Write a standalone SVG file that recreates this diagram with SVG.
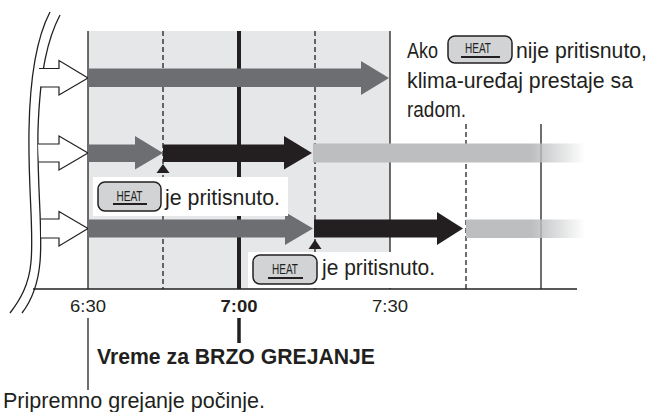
<svg xmlns="http://www.w3.org/2000/svg" width="651" height="412" viewBox="0 0 651 412">
<defs>
<style>
.txt{font-family:"Liberation Sans",Arial,sans-serif;font-size:22px;fill:#231f20}
.bold{font-weight:bold}
.axis{font-family:"Liberation Sans",Arial,sans-serif;font-size:17px;fill:#231f20}
.heat{font-family:"Liberation Sans",Arial,sans-serif;font-size:14px;fill:#231f20}
.btn{fill:#d1d3d4;stroke:#231f20;stroke-width:1.5}
.thin{stroke:#231f20;stroke-width:1.3;fill:none}
.dash{stroke:#231f20;stroke-width:1.3;stroke-dasharray:5 3;fill:none}
.warrow{fill:#fff;stroke:#231f20;stroke-width:1.2}
.dk{fill:#6d6e71}
.bk{fill:#231f20}
</style>
<linearGradient id="fade" x1="0" y1="0" x2="1" y2="0" gradientUnits="objectBoundingBox">
<stop offset="0" stop-color="#bcbec0"/>
<stop offset="0.8" stop-color="#bcbec0"/>
<stop offset="1" stop-color="#bcbec0" stop-opacity="0"/>
</linearGradient>
<linearGradient id="fade2" x1="0" y1="0" x2="1" y2="0" gradientUnits="objectBoundingBox">
<stop offset="0" stop-color="#bcbec0"/>
<stop offset="0.55" stop-color="#bcbec0"/>
<stop offset="1" stop-color="#bcbec0" stop-opacity="0"/>
</linearGradient>
</defs>

<g id="background">
<rect x="88" y="31" width="302" height="258" fill="#e6e7e8"/>
</g>

<g id="connectors">
<line class="thin" x1="88" y1="31" x2="88" y2="289"/>
<line class="thin" x1="390" y1="31" x2="390" y2="289"/>
<line class="dash" x1="163" y1="31" x2="163" y2="289"/>
<line class="dash" x1="315" y1="31" x2="315" y2="289"/>
<line class="dash" x1="466" y1="124" x2="466" y2="289"/>
<line class="thin" x1="541" y1="124" x2="541" y2="289"/>
<line x1="239" y1="31" x2="239" y2="289" stroke="#231f20" stroke-width="4"/>
<line class="thin" x1="33" y1="289" x2="577" y2="289" stroke-width="1.5"/>
<path class="thin" d="M50,12 C38,35 30,70 29,130 C28,190 34,230 31,262 C29,285 20,300 10,313"/>
<path class="thin" d="M60,15 C48,38 40,70 38,130 C37,190 43,230 40,262 C38,285 32,300 22,313"/>
<line class="thin" x1="88" y1="318" x2="88" y2="390"/>
<line x1="239" y1="318" x2="239" y2="343" stroke="#231f20" stroke-width="3.5"/>
</g>

<g id="row1">
<path class="warrow" d="M39,68.5 H59 V60.5 L88,78 L59,95 V87 H40"/>
<path class="dk" d="M88,68.5 H361 V61 L389,78 L361,95 V87 H88 Z"/>
</g>

<g id="row2">
<path class="warrow" d="M38,144 H59 V136 L88,153 L59,170 V162 H39"/>
<path class="dk" d="M88,144.5 H135 V136 L163,153 L135,169.5 V162 H88 Z"/>
<path class="bk" d="M163,144.5 H284 V136 L312,153 L284,169.5 V162 H163 Z"/>
<rect x="313" y="143.5" width="272" height="19" fill="url(#fade)"/>
<path class="bk" d="M163,164 L169.5,173 L156.5,173 Z"/>
</g>

<g id="row3">
<path class="warrow" d="M41,219 H59 V211.5 L88,228.5 L59,246 V238 H41"/>
<path class="dk" d="M88,219.5 H285 V212 L313,228.5 L285,245 V237.5 H88 Z"/>
<path class="bk" d="M314,219.5 H437 V212 L463,228.5 L437,245 V237.5 H314 Z"/>
<rect x="466" y="219.5" width="119" height="18.5" fill="url(#fade2)"/>
<path class="bk" d="M315,239.5 L321.5,249 L308.5,249 Z"/>
</g>

<g id="label1">
<rect x="93" y="177" width="195" height="39" fill="#fff"/>
<rect class="btn" x="98" y="182" width="63" height="29" rx="7"/>
<text class="heat" x="129.5" y="201" text-anchor="middle" textLength="26" lengthAdjust="spacingAndGlyphs">HEAT</text>
<rect x="113" y="203" width="34" height="2" fill="#231f20"/>
<text class="txt" x="165" y="205" textLength="115" lengthAdjust="spacingAndGlyphs">je pritisnuto.</text>
</g>

<g id="label2">
<rect x="248" y="252" width="196" height="36" fill="#fff"/>
<rect class="btn" x="253" y="255" width="64" height="29" rx="7"/>
<text class="heat" x="285" y="274" text-anchor="middle" textLength="26" lengthAdjust="spacingAndGlyphs">HEAT</text>
<rect x="268" y="277" width="35" height="2" fill="#231f20"/>
<text class="txt" x="322" y="275" textLength="113" lengthAdjust="spacingAndGlyphs">je pritisnuto.</text>
</g>

<g id="note">
<text class="txt" x="407" y="58" textLength="31" lengthAdjust="spacingAndGlyphs">Ako</text>
<rect class="btn" x="448" y="36" width="64" height="27" rx="7"/>
<text class="heat" x="478" y="53" text-anchor="middle" textLength="26" lengthAdjust="spacingAndGlyphs">HEAT</text>
<rect x="461" y="56" width="39" height="2" fill="#231f20"/>
<text class="txt" x="516" y="58" textLength="131" lengthAdjust="spacingAndGlyphs">nije pritisnuto,</text>
<text class="txt" x="407" y="88" textLength="226" lengthAdjust="spacingAndGlyphs">klima-uređaj prestaje sa</text>
<text class="txt" x="407" y="117" textLength="59" lengthAdjust="spacingAndGlyphs">radom.</text>
</g>

<g id="axis-labels">
<text class="axis" x="88" y="312" text-anchor="middle" textLength="36" lengthAdjust="spacingAndGlyphs">6:30</text>
<text class="axis bold" x="239" y="312" text-anchor="middle" textLength="37" lengthAdjust="spacingAndGlyphs">7:00</text>
<text class="axis" x="390" y="312" text-anchor="middle" textLength="36" lengthAdjust="spacingAndGlyphs">7:30</text>
</g>

<g id="captions">
<text class="txt bold" x="97" y="364" textLength="278" lengthAdjust="spacingAndGlyphs">Vreme za BRZO GREJANJE</text>
<text class="txt" x="3" y="408" textLength="262" lengthAdjust="spacingAndGlyphs">Pripremno grejanje počinje.</text>
</g>
</svg>
